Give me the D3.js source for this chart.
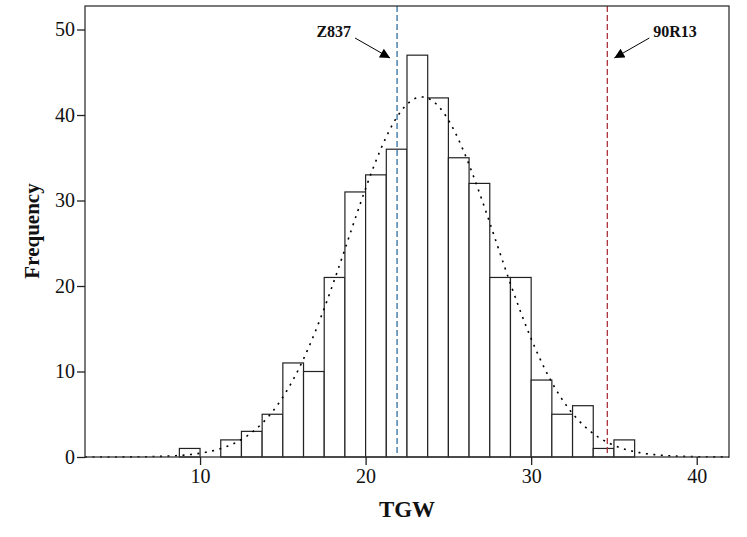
<!DOCTYPE html>
<html>
<head>
<meta charset="utf-8">
<script src="https://cdn.jsdelivr.net/npm/d3@7"></script>
<style>
  body { margin: 0; background: #fff; }
  text { font-family: "Liberation Serif", "Times New Roman", serif; fill: #111; }
</style>
</head>
<body>
<svg id="chart" width="747" height="537"></svg>
<script>
// histogram bins (lower edge, width 1.25) and counts
const binLower = [8.75, 10, 11.25, 12.5, 13.75, 15, 16.25, 17.5, 18.75, 20, 21.25,
  22.5, 23.75, 25, 26.25, 27.5, 28.75, 30, 31.25, 32.5, 33.75, 35];
const counts = [1, 0, 2, 3, 5, 11, 10, 21, 31, 33, 36, 47, 42, 35, 32, 21, 21, 9, 5, 6, 1, 2];
const binWidth = 1.25;

const xTicks = [10, 20, 30, 40];
const yTicks = [0, 10, 20, 30, 40, 50];

const markerNames = ['Z837', '90R13'];
const markerValues = [21.9, 34.6];
const markerColors = ['#2f6f9c', '#a8323c'];

const margin = {top: 6, right: 18, bottom: 80, left: 85},
  width = 747,
  height = 537;

const svg = d3.select('#chart');

const x = d3.scaleLinear()
  .domain([3.05, 41.95])
  .range([margin.left, width - margin.right]);

const y = d3.scaleLinear()
  .domain([0, 52.75])
  .range([height - margin.bottom, margin.top]);

// arrowhead
svg.append('defs').append('marker')
  .attr('id', 'arrow')
  .attr('viewBox', '0 0 10 10')
  .attr('refX', 10)
  .attr('refY', 5)
  .attr('markerWidth', 12)
  .attr('markerHeight', 10)
  .attr('markerUnits', 'userSpaceOnUse')
  .attr('orient', 'auto')
  .append('path')
  .attr('d', 'M0,0 L10,5 L0,10 Z')
  .attr('fill', '#000');

// bars
svg.append('g')
  .selectAll('rect')
  .data(counts.map((c, i) => ({x0: binLower[i], c})).filter(d => d.c > 0))
  .enter().append('rect')
  .attr('x', d => x(d.x0))
  .attr('y', d => y(d.c))
  .attr('width', d => x(d.x0 + binWidth) - x(d.x0))
  .attr('height', d => y(0) - y(d.c))
  .attr('fill', '#fff')
  .attr('stroke', '#222')
  .attr('stroke-width', 1.2);

// fitted normal curve from the binned data
const n = d3.sum(counts);
const mean = d3.sum(counts, (c, i) => c * (binLower[i] + binWidth / 2)) / n;
const sd = Math.sqrt(d3.sum(counts, (c, i) => c * (binLower[i] + binWidth / 2 - mean) ** 2) / n);
const curve = d3.range(x.domain()[0], x.domain()[1], 0.1).map(v =>
  [v, n * binWidth / (sd * Math.sqrt(2 * Math.PI)) * Math.exp(-0.5 * ((v - mean) / sd) ** 2)]);

svg.append('path')
  .datum(curve)
  .attr('d', d3.line().x(d => x(d[0])).y(d => y(d[1])))
  .attr('fill', 'none')
  .attr('stroke', '#000')
  .attr('stroke-width', 1.6)
  .attr('stroke-dasharray', '2,5.5');

// marker lines
svg.append('g')
  .selectAll('line')
  .data(markerValues)
  .enter().append('line')
  .attr('x1', d => x(d))
  .attr('x2', d => x(d))
  .attr('y1', margin.top)
  .attr('y2', height - margin.bottom)
  .attr('stroke', (d, i) => markerColors[i])
  .attr('stroke-width', 1.3)
  .attr('stroke-dasharray', '6,3');

// annotations
const side = [-1, 1];
markerValues.forEach((v, i) => {
  const mx = x(v), s = side[i];
  svg.append('line')
    .attr('x1', mx + s * 42)
    .attr('y1', 38)
    .attr('x2', mx + s * 7)
    .attr('y2', 58)
    .attr('stroke', '#000')
    .attr('stroke-width', 1)
    .attr('marker-end', 'url(#arrow)');
  svg.append('text')
    .attr('x', mx + s * 46)
    .attr('y', 37)
    .attr('text-anchor', s < 0 ? 'end' : 'start')
    .attr('font-size', 16)
    .attr('font-weight', 'bold')
    .text(markerNames[i]);
});

// frame
svg.append('rect')
  .attr('x', margin.left)
  .attr('y', margin.top)
  .attr('width', width - margin.left - margin.right)
  .attr('height', height - margin.top - margin.bottom)
  .attr('fill', 'none')
  .attr('stroke', '#333')
  .attr('stroke-width', 1.3);

// axes
const xAxis = svg.append('g')
  .attr('transform', `translate(0,${height - margin.bottom})`)
  .call(d3.axisBottom(x).tickValues(xTicks).tickSize(8).tickPadding(4).tickFormat(d3.format('d')));

const yAxis = svg.append('g')
  .attr('transform', `translate(${margin.left},0)`)
  .call(d3.axisLeft(y).tickValues(yTicks).tickSize(8).tickPadding(2).tickFormat(d3.format('d')));

[xAxis, yAxis].forEach(a => {
  a.select('.domain').remove();
  a.selectAll('line').attr('stroke', '#222').attr('stroke-width', 1.3);
  a.selectAll('text')
    .attr('font-size', 20)
    .attr('font-family', '"Liberation Serif", serif')
    .attr('fill', '#111');
});

// axis titles
svg.append('text')
  .attr('x', x(22.5))
  .attr('y', 517)
  .attr('text-anchor', 'middle')
  .attr('font-size', 23)
  .attr('font-weight', 'bold')
  .text('TGW');

svg.append('text')
  .attr('transform', 'translate(39,231) rotate(-90)')
  .attr('text-anchor', 'middle')
  .attr('font-size', 21)
  .attr('font-weight', 'bold')
  .text('Frequency');
</script>
</body>
</html>
